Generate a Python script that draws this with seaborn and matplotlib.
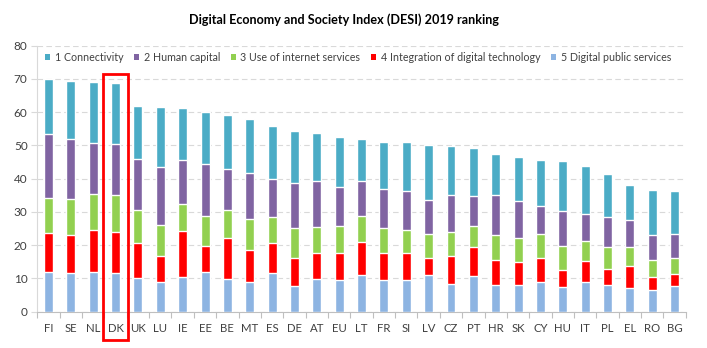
import numpy as np
import pandas as pd
import matplotlib
matplotlib.use("Agg")
import matplotlib.pyplot as plt
from matplotlib.patches import Patch, Rectangle
import seaborn as sns

countries = ["FI", "SE", "NL", "DK", "UK", "LU", "IE", "EE", "BE", "MT", "ES", "DE", "AT", "EU",
             "LT", "FR", "SI", "LV", "CZ", "PT", "HR", "SK", "CY", "HU", "IT", "PL", "EL", "RO", "BG"]

# DESI 2019 dimension scores (weighted contributions)
connectivity = [16.5, 17.5, 18.3, 18.6, 16.0, 18.0, 15.7, 15.7, 16.4, 16.3, 16.1, 15.7, 14.4, 15.0,
                12.7, 14.0, 14.6, 16.5, 14.7, 14.4, 12.4, 13.1, 13.8, 15.0, 14.5, 12.9, 10.4, 13.5, 12.9]
human_capital = [19.3, 18.1, 15.4, 15.2, 15.3, 17.6, 13.2, 15.6, 12.3, 13.7, 11.2, 13.5, 13.9, 11.7,
                 10.5, 11.7, 11.7, 10.1, 11.0, 8.9, 11.9, 11.1, 8.4, 10.6, 8.1, 9.2, 8.2, 7.7, 7.2]
internet_use = [10.5, 10.8, 10.8, 11.0, 10.0, 9.3, 8.1, 9.1, 8.3, 9.2, 7.8, 9.1, 7.7, 8.1,
                7.8, 7.5, 6.9, 7.3, 7.4, 6.5, 7.6, 7.3, 7.2, 7.2, 6.1, 6.6, 5.8, 4.9, 4.8]
digital_tech = [11.6, 11.4, 12.6, 12.4, 10.4, 7.7, 13.8, 7.7, 12.4, 9.7, 9.2, 8.4, 7.8, 8.2,
                10.0, 8.1, 8.1, 5.2, 8.4, 8.7, 7.5, 6.9, 7.3, 5.1, 6.3, 4.8, 6.6, 4.0, 3.7]
public_services = [12.0, 11.7, 12.0, 11.7, 10.2, 9.0, 10.5, 12.0, 9.9, 9.0, 11.6, 7.7, 9.9, 9.5,
                   11.0, 9.6, 9.6, 11.0, 8.3, 10.7, 8.0, 8.0, 8.9, 7.4, 8.9, 8.0, 7.1, 6.5, 7.7]

series_names = ["1 Connectivity", "2 Human capital", "3 Use of internet services",
                "4 Integration of digital technology", "5 Digital public services"]
colors = ["#4BACC6", "#8064A2", "#92D050", "#FF0000", "#8DB4E2"]

sns.set_style("white")
plt.rcParams["font.family"] = ["Lato", "DejaVu Sans"]

fig = plt.figure(figsize=(7.07, 3.48), dpi=100)
ax = fig.add_axes([0.0528, 0.1043, 0.9172, 0.7644])

# stack from the bottom: public services, digital tech, internet use, human capital, connectivity
layers = [public_services, digital_tech, internet_use, human_capital, connectivity]
cum = np.cumsum(np.array(layers), axis=0)
layer_colors = colors[::-1]

# draw tallest cumulative totals first so lower segments sit on top
for i in range(len(layers) - 1, -1, -1):
    df = pd.DataFrame({"country": countries, "value": cum[i]})
    sns.barplot(data=df, x="country", y="value", order=countries, color=layer_colors[i],
                saturation=1, width=0.4, ax=ax, zorder=3)

ax.set_ylim(0, 80)
ax.set_xlim(-0.5, len(countries) - 0.5)
ax.set_yticks(range(0, 81, 10))
ax.set_xlabel("")
ax.set_ylabel("")

ax.yaxis.grid(True, color="#D9D9D9", linestyle=(0, (5, 3)), linewidth=0.8, zorder=0)
ax.xaxis.grid(False)
for s in ["top", "right"]:
    ax.spines[s].set_visible(False)
ax.spines["left"].set_color("#D9D9D9")
ax.spines["bottom"].set_color("#BFBFBF")
ax.spines["left"].set_linewidth(0.8)
ax.spines["bottom"].set_linewidth(0.8)

ax.tick_params(axis="y", length=4, width=0.8, color="#D9D9D9", labelsize=8.5,
               labelcolor="#404040", pad=3, left=True)
ax.set_xticks(np.arange(-0.5, len(countries), 1.0), minor=True)
ax.tick_params(axis="x", which="major", length=0, labelsize=8.2, labelcolor="#404040", pad=8)
ax.tick_params(axis="x", which="minor", length=4, width=0.8, color="#BFBFBF", bottom=True)

handles = [Patch(facecolor=c, edgecolor="none", label=n) for c, n in zip(colors, series_names)]
leg = ax.legend(handles=handles, ncol=5, loc="center left", bbox_to_anchor=(0.012, 0.955),
                frameon=False, fontsize=7.7, handlelength=0.5, handleheight=0.5,
                handletextpad=0.4, columnspacing=1.0, labelcolor="#404040",
                borderaxespad=0, borderpad=0)

# highlight Denmark
dk = countries.index("DK")
rect = Rectangle((dk - 0.57, -8.4), 1.14, 80.0, fill=False, edgecolor="#FF0000",
                 linewidth=2.0, clip_on=False, zorder=5)
ax.add_patch(rect)

fig.text(344 / 707, 1 - 20 / 348, "Digital Economy and Society Index (DESI) 2019 ranking",
         ha="center", va="center", fontsize=9.1, fontweight="bold", color="black")

fig.savefig("out.png", dpi=100, facecolor="white")
